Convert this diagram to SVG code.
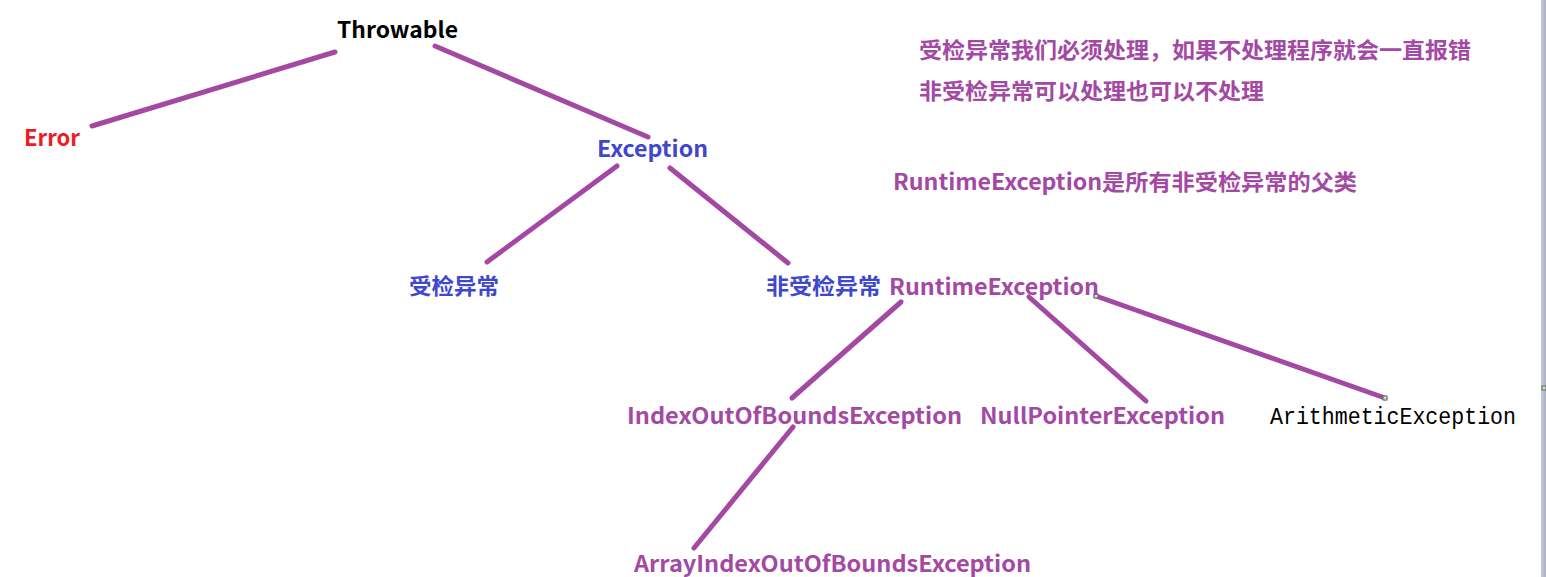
<svg xmlns="http://www.w3.org/2000/svg" width="1546" height="577" viewBox="0 0 1546 577">
<defs>
<linearGradient id="edge" x1="0" y1="0" x2="1" y2="0">
<stop offset="0" stop-color="#c6ccd8"/>
<stop offset="1" stop-color="#a9b3c6"/>
</linearGradient>
</defs>
<style>
text{font-family:"Noto Sans CJK SC","Open Sans",sans-serif;font-weight:bold;font-size:22px}
.purple{fill:#a349a4}
.blue{fill:#3f48cc}
.red{fill:#ed1c24}
.black{fill:#000}
.mono{font-family:"Liberation Mono","DejaVu Sans Mono",monospace;font-weight:normal;font-size:23px}
.edge line{stroke:#a349a4;stroke-width:5;stroke-linecap:round}
.handle{fill:#cfe3c8;stroke:#5a6a5a;stroke-width:1}
</style>
<rect width="1546" height="577" fill="#fff"/>
<rect x="1541" y="0" width="5" height="577" fill="url(#edge)"/>
<g id="connectors" class="edge">
<line x1="335" y1="52" x2="92" y2="126"/>
<line x1="435" y1="46" x2="648" y2="137"/>
<line x1="617" y1="166" x2="487" y2="262"/>
<line x1="670" y1="168" x2="788" y2="263"/>
<line x1="901" y1="302" x2="792" y2="398"/>
<line x1="1029" y1="297" x2="1146" y2="401"/>
<line x1="1096" y1="296" x2="1385" y2="398"/>
<line x1="793" y1="427" x2="694" y2="548"/>
</g>
<rect class="handle" x="1094" y="294" width="4" height="4"/>
<rect class="handle" x="1383" y="396" width="4" height="4"/>
<rect class="handle" x="1542" y="386" width="4" height="4"/>
<g id="throwable"><text class="black" x="337" y="38" textLength="121" lengthAdjust="spacingAndGlyphs">Throwable</text></g>
<g id="error"><text class="red" x="24" y="146" textLength="56" lengthAdjust="spacingAndGlyphs">Error</text></g>
<g id="exception"><text class="blue" x="597" y="157" textLength="111" lengthAdjust="spacingAndGlyphs">Exception</text></g>
<g id="checked"><text class="blue" x="409" y="294" textLength="90" lengthAdjust="spacingAndGlyphs">受检异常</text></g>
<g id="unchecked"><text class="blue" x="766" y="294" textLength="115" lengthAdjust="spacingAndGlyphs">非受检异常</text></g>
<g id="runtime"><text class="purple" x="889" y="295" textLength="210" lengthAdjust="spacingAndGlyphs">RuntimeException</text></g>
<g id="index"><text class="purple" x="627" y="424" textLength="335" lengthAdjust="spacingAndGlyphs">IndexOutOfBoundsException</text></g>
<g id="nullpointer"><text class="purple" x="980" y="424" textLength="245" lengthAdjust="spacingAndGlyphs">NullPointerException</text></g>
<g id="arithmetic"><text class="black mono" x="1270" y="424" textLength="246" lengthAdjust="spacingAndGlyphs">ArithmeticException</text></g>
<g id="arrayindex"><text class="purple" x="634" y="572" textLength="397" lengthAdjust="spacingAndGlyphs">ArrayIndexOutOfBoundsException</text></g>
<g id="note1"><text class="purple" x="919" y="58" textLength="552" lengthAdjust="spacingAndGlyphs">受检异常我们必须处理，如果不处理程序就会一直报错</text></g>
<g id="note2"><text class="purple" x="919" y="99" textLength="345" lengthAdjust="spacingAndGlyphs">非受检异常可以处理也可以不处理</text></g>
<g id="note3"><text class="purple" x="893" y="190" textLength="464" lengthAdjust="spacingAndGlyphs">RuntimeException是所有非受检异常的父类</text></g>
</svg>
